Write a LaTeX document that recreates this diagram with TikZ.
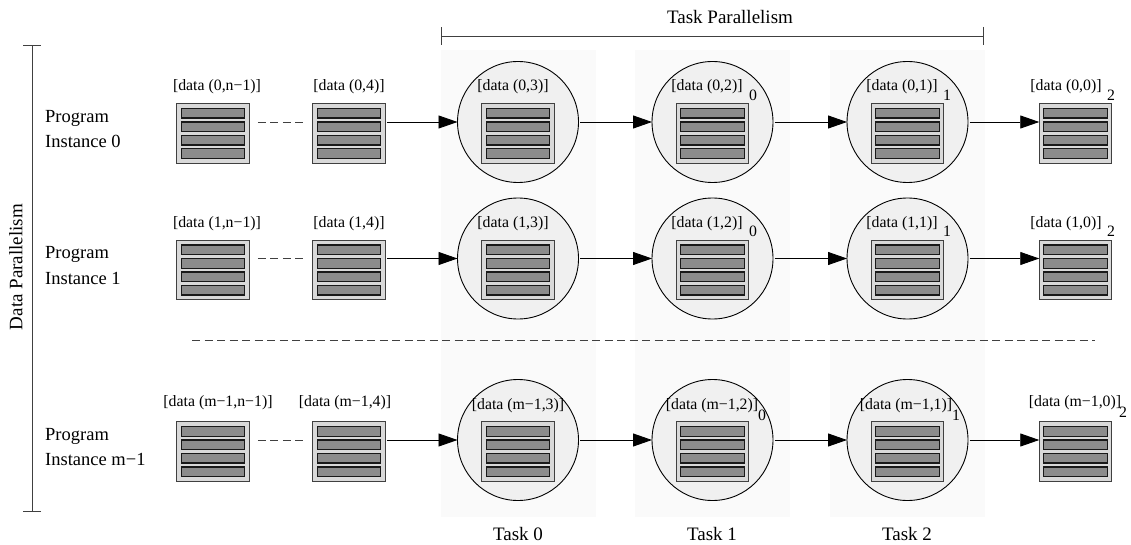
\documentclass[tikz,border=0pt]{standalone}
\usepackage{fontspec}
\setmainfont{Liberation Serif}
\usetikzlibrary{arrows.meta}
\tikzset{
    smalltext/.style={font=\fontsize{15.8}{18}\selectfont, inner sep=0},
    bigtext/.style={font=\fontsize{19}{25.5}\selectfont, inner sep=0},
    taskbg/.style={fill=black!2, minimum width=155pt, minimum height=467.5pt, inner sep=0, outer sep=0},
    taskcircle/.style={circle, draw, fill=black!6, line width=0.9pt, minimum size=121pt, inner sep=0, outer sep=0},
    databar/.style={draw=black!90, fill=black!45, line width=1.2pt},
    databox/.style={draw=black!75, fill=black!15, line width=1.1pt, minimum width=72.5pt, minimum height=59.5pt, inner sep=0, outer sep=0,
        path picture={
            \foreach \off in {-20.2,-6.7,6.7,20.2}
                \draw[databar] ([shift={(-31.8pt,\off pt-4.8pt)}]path picture bounding box.center) rectangle ([shift={(31.8pt,\off pt+4.8pt)}]path picture bounding box.center);
        }},
    flow/.style={-{Triangle[length=19pt,width=13pt]}, line width=0.9pt, shorten <=1.5pt},
    gapline/.style={dash pattern=on 8pt off 4.5pt, line width=0.9pt, black!75},
    span/.style={{Bar[width=18pt]}-{Bar[width=18pt]}, line width=0.9pt, black!75}
}

\begin{document}
\begin{tikzpicture}[x=1pt,y=-1pt]
    \useasboundingbox (0,0) rectangle (1131,545);
    \node[taskbg] (bg0) at (518,283.5) {};
    \node[taskbg] (bg1) at (712.5,283.5) {};
    \node[taskbg] (bg2) at (907.5,283.5) {};
    \coordinate (taskl) at (441,36);
    \coordinate (taskr) at (984,36);
    \draw[span] (taskl) -- (taskr);
    \node[bigtext] (taskpar) at (730,17) {Task Parallelism};
    \coordinate (datat) at (32,45.5);
    \coordinate (datab) at (32,512);
    \draw[span] (datat) -- (datab);
    \node[bigtext, rotate=90] (datapar) at (16,267) {Data Parallelism};
    \coordinate (sepl) at (192,340);
    \coordinate (sepr) at (1095,340);
    \draw[gapline] (sepl) -- (sepr);
    \node[bigtext] (task0) at (518,534) {Task 0};
    \node[bigtext] (task1) at (712,534) {Task 1};
    \node[bigtext] (task2) at (907,534) {Task 2};
    \foreach \r/\y/\who/\ly/\lc/\dy/\xa/\xb/\xm/\xc/\xd/\xe/\sa/\sb/\sc in {
        0/122/0/87/87/8/217/349/513/707/902/1066/753/947/1111,
        1/258.5/1/223.5/223.5/8/217/349/513/707/902/1066/753/947/1111,
        2/440/m−1/403/406/9/218/345/518/712/906/1075/762/956/1123}
    {
        \node[bigtext, font=\fontsize{18.5}{25.5}\selectfont, align=left, anchor=west] (inst\r) at (45,\y+7) {Program\\Instance \who};
        \node[databox] (far\r) at (213,\y+11.5) {};
        \node[databox] (near\r) at (349,\y+11.5) {};
        \node[taskcircle] (ca\r) at (518,\y) {};
        \node[taskcircle] (cb\r) at (712.5,\y) {};
        \node[taskcircle] (cc\r) at (907.5,\y) {};
        \node[databox] (ina\r) at (518,\y+11.5) {};
        \node[databox] (inb\r) at (712.5,\y+11.5) {};
        \node[databox] (inc\r) at (907.5,\y+11.5) {};
        \node[databox] (last\r) at (1075.5,\y+11.5) {};
        \node[smalltext] (lfar\r) at (\xa,\ly) {[data (\who,n−1)]};
        \node[smalltext] (lnear\r) at (\xb,\ly) {[data (\who,4)]};
        \node[smalltext] (la\r) at (\xm,\lc) {[data (\who,3)]};
        \node[smalltext] (lb\r) at (\xc,\lc) {[data (\who,2)]};
        \node[smalltext] (lc\r) at (\xd,\lc) {[data (\who,1)]};
        \node[smalltext] (ll\r) at (\xe,\ly) {[data (\who,0)]};
        \node[smalltext] (sa\r) at (\sa,\lc+\dy) {0};
        \node[smalltext] (sb\r) at (\sb,\lc+\dy) {1};
        \node[smalltext] (sc\r) at (\sc,\ly+\dy) {2};
        \draw[gapline] ([xshift=8.5pt]far\r.east |- ca\r.west) -- ([xshift=-10pt]near\r.west |- ca\r.west);
        \draw[flow] (near\r.east |- ca\r.west) -- (ca\r.west);
        \draw[flow] (ca\r.east) -- (cb\r.west);
        \draw[flow] (cb\r.east) -- (cc\r.west);
        \draw[flow] (cc\r.east) -- (last\r.west |- cc\r.east);
    }
\end{tikzpicture}
\end{document}
